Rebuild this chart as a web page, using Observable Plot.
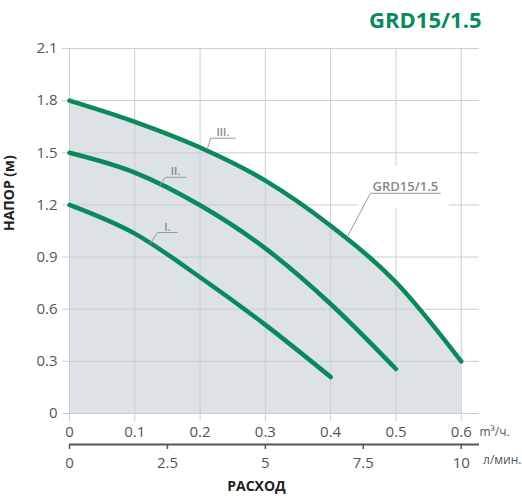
<!DOCTYPE html>
<html>
<head>
<meta charset="utf-8">
<script src="https://cdn.jsdelivr.net/npm/d3@7"></script>
<script src="https://cdn.jsdelivr.net/npm/@observablehq/plot@0.6"></script>
<style>
  body { margin: 0; background: #fff; }
  #chart svg { display: block; }
</style>
</head>
<body>
<div id="chart"></div>
<script>
// flow in m3/h, head in m
const flow = [0, 0.1, 0.2, 0.3, 0.4, 0.5, 0.6];
const headIII = [1.8, 1.678, 1.53, 1.34, 1.08, 0.755, 0.3];
const headII = [1.5, 1.386, 1.198, 0.95, 0.63, 0.256];
const headI = [1.2, 1.035, 0.784, 0.51, 0.21];

const headTicks = [0, 0.3, 0.6, 0.9, 1.2, 1.5, 1.8, 2.1];
const flowTicks = [0, 0.1, 0.2, 0.3, 0.4, 0.5, 0.6];
const litreTicks = [0, 2.5, 5, 7.5, 10];   // л/мин.

// curve labels: text, anchor point on curve, underline start / end (data units)
const labelNames = ["III.", "II.", "I.", "GRD15/1.5"];
const labelCurve = [[0.211, 1.52], [0.139, 1.315], [0.124, 0.98], [0.426, 1.02]];
const labelLineX = [[0.216, 0.254], [0.147, 0.178], [0.135, 0.165], [0.461, 0.568]];
const labelLineY = [1.584, 1.359, 1.041, 1.267];

const green = "#0a8a5c";
const gridColor = "#c9cdd1";
const font = "Open Sans";

const toRows = (hs) => hs.map((h, i) => ({q: flow[i], h}));
const curves = [toRows(headI), toRows(headII), toRows(headIII)];

const leaders = labelNames.flatMap((name, i) => [
  {name, q: labelCurve[i][0], h: labelCurve[i][1]},
  {name, q: labelLineX[i][0], h: labelLineY[i]},
  {name, q: labelLineX[i][1], h: labelLineY[i]}
]);
const labels = labelNames.map((name, i) => ({
  name,
  q: (labelLineX[i][0] + labelLineX[i][1]) / 2,
  h: labelLineY[i],
  big: name.length > 4
}));

const fmt = (d) => d === 0 ? "0" : d3.format(".1f")(d);

const chart = Plot.plot({
  width: 522,
  height: 498,
  marginTop: 48,
  marginBottom: 85,
  marginLeft: 69,
  marginRight: 43,
  style: {fontFamily: font, background: "#fff"},
  x: {type: "linear", domain: [0, 0.628]},
  y: {type: "linear", domain: [0, 2.1]},
  marks: [
    Plot.areaY(curves[2], {x: "q", y: "h", fill: "#dde2e6", curve: "monotone-x"}),
    Plot.gridX(flowTicks, {stroke: gridColor, strokeOpacity: 1}),
    Plot.gridY(headTicks, {stroke: gridColor, strokeOpacity: 1}),
    // white patch behind the model label
    Plot.rect([{x1: 0.443, x2: 0.582, y1: 1.18, y2: 1.42}], {x1: "x1", x2: "x2", y1: "y1", y2: "y2", fill: "#fff"}),
    Plot.axisY({
      ticks: headTicks, tickSize: 7, tickPadding: 5, stroke: gridColor,
      fontSize: 15, color: "#555", label: null, tickFormat: fmt
    }),
    Plot.axisX({
      ticks: flowTicks, tickSize: 8, tickPadding: 5, stroke: gridColor,
      fontSize: 15, color: "#555", label: null, tickFormat: fmt
    }),
    // second flow scale in litres per minute
    Plot.ruleY([0], {x1: 0, x2: 0.628, dy: 31, stroke: "#555", strokeWidth: 2}),
    Plot.axisX({
      ticks: litreTicks.map((d) => d * 0.06), dy: 31, tickSize: 5, tickPadding: 8,
      stroke: "#555", strokeWidth: 1.5, fontSize: 15, color: "#555", label: null,
      tickFormat: (d) => String(Math.round(d / 0.06 * 10) / 10)
    }),
    Plot.text(["m³/ч."], {x: 0.628, y: 0, dy: 19, textAnchor: "start", fontSize: 12, fill: "#555"}),
    Plot.text(["л/мин."], {frameAnchor: "bottom-right", dx: 42, dy: 50, textAnchor: "end", fontSize: 12, fill: "#555"}),
    // curves
    ...curves.map((c) => Plot.line(c, {
      x: "q", y: "h", stroke: green, strokeWidth: 4.5, curve: "monotone-x", strokeLinecap: "round"
    })),
    // labels with leader lines
    Plot.line(leaders, {x: "q", y: "h", z: "name", stroke: "#9a9a9a", strokeWidth: 1}),
    Plot.text(labels, {
      x: "q", y: "h", text: "name", lineAnchor: "bottom", dy: -2,
      fontSize: (d) => d.big ? 13 : 11, fontWeight: 600, fill: "#888"
    }),
    // titles
    Plot.text(["GRD15/1.5"], {frameAnchor: "top-right", dx: 2, dy: -36, textAnchor: "end", fontSize: 22, fontWeight: 700, fill: green}),
    Plot.text(["НАПОР (м)"], {frameAnchor: "left", dx: -60, rotate: -90, fontSize: 14, fontWeight: 700, fill: "#222"}),
    Plot.text(["РАСХОД"], {frameAnchor: "bottom", dx: -18, dy: 77, fontSize: 14, fontWeight: 700, fill: "#222"})
  ]
});

document.getElementById("chart").append(chart);
</script>
</body>
</html>
